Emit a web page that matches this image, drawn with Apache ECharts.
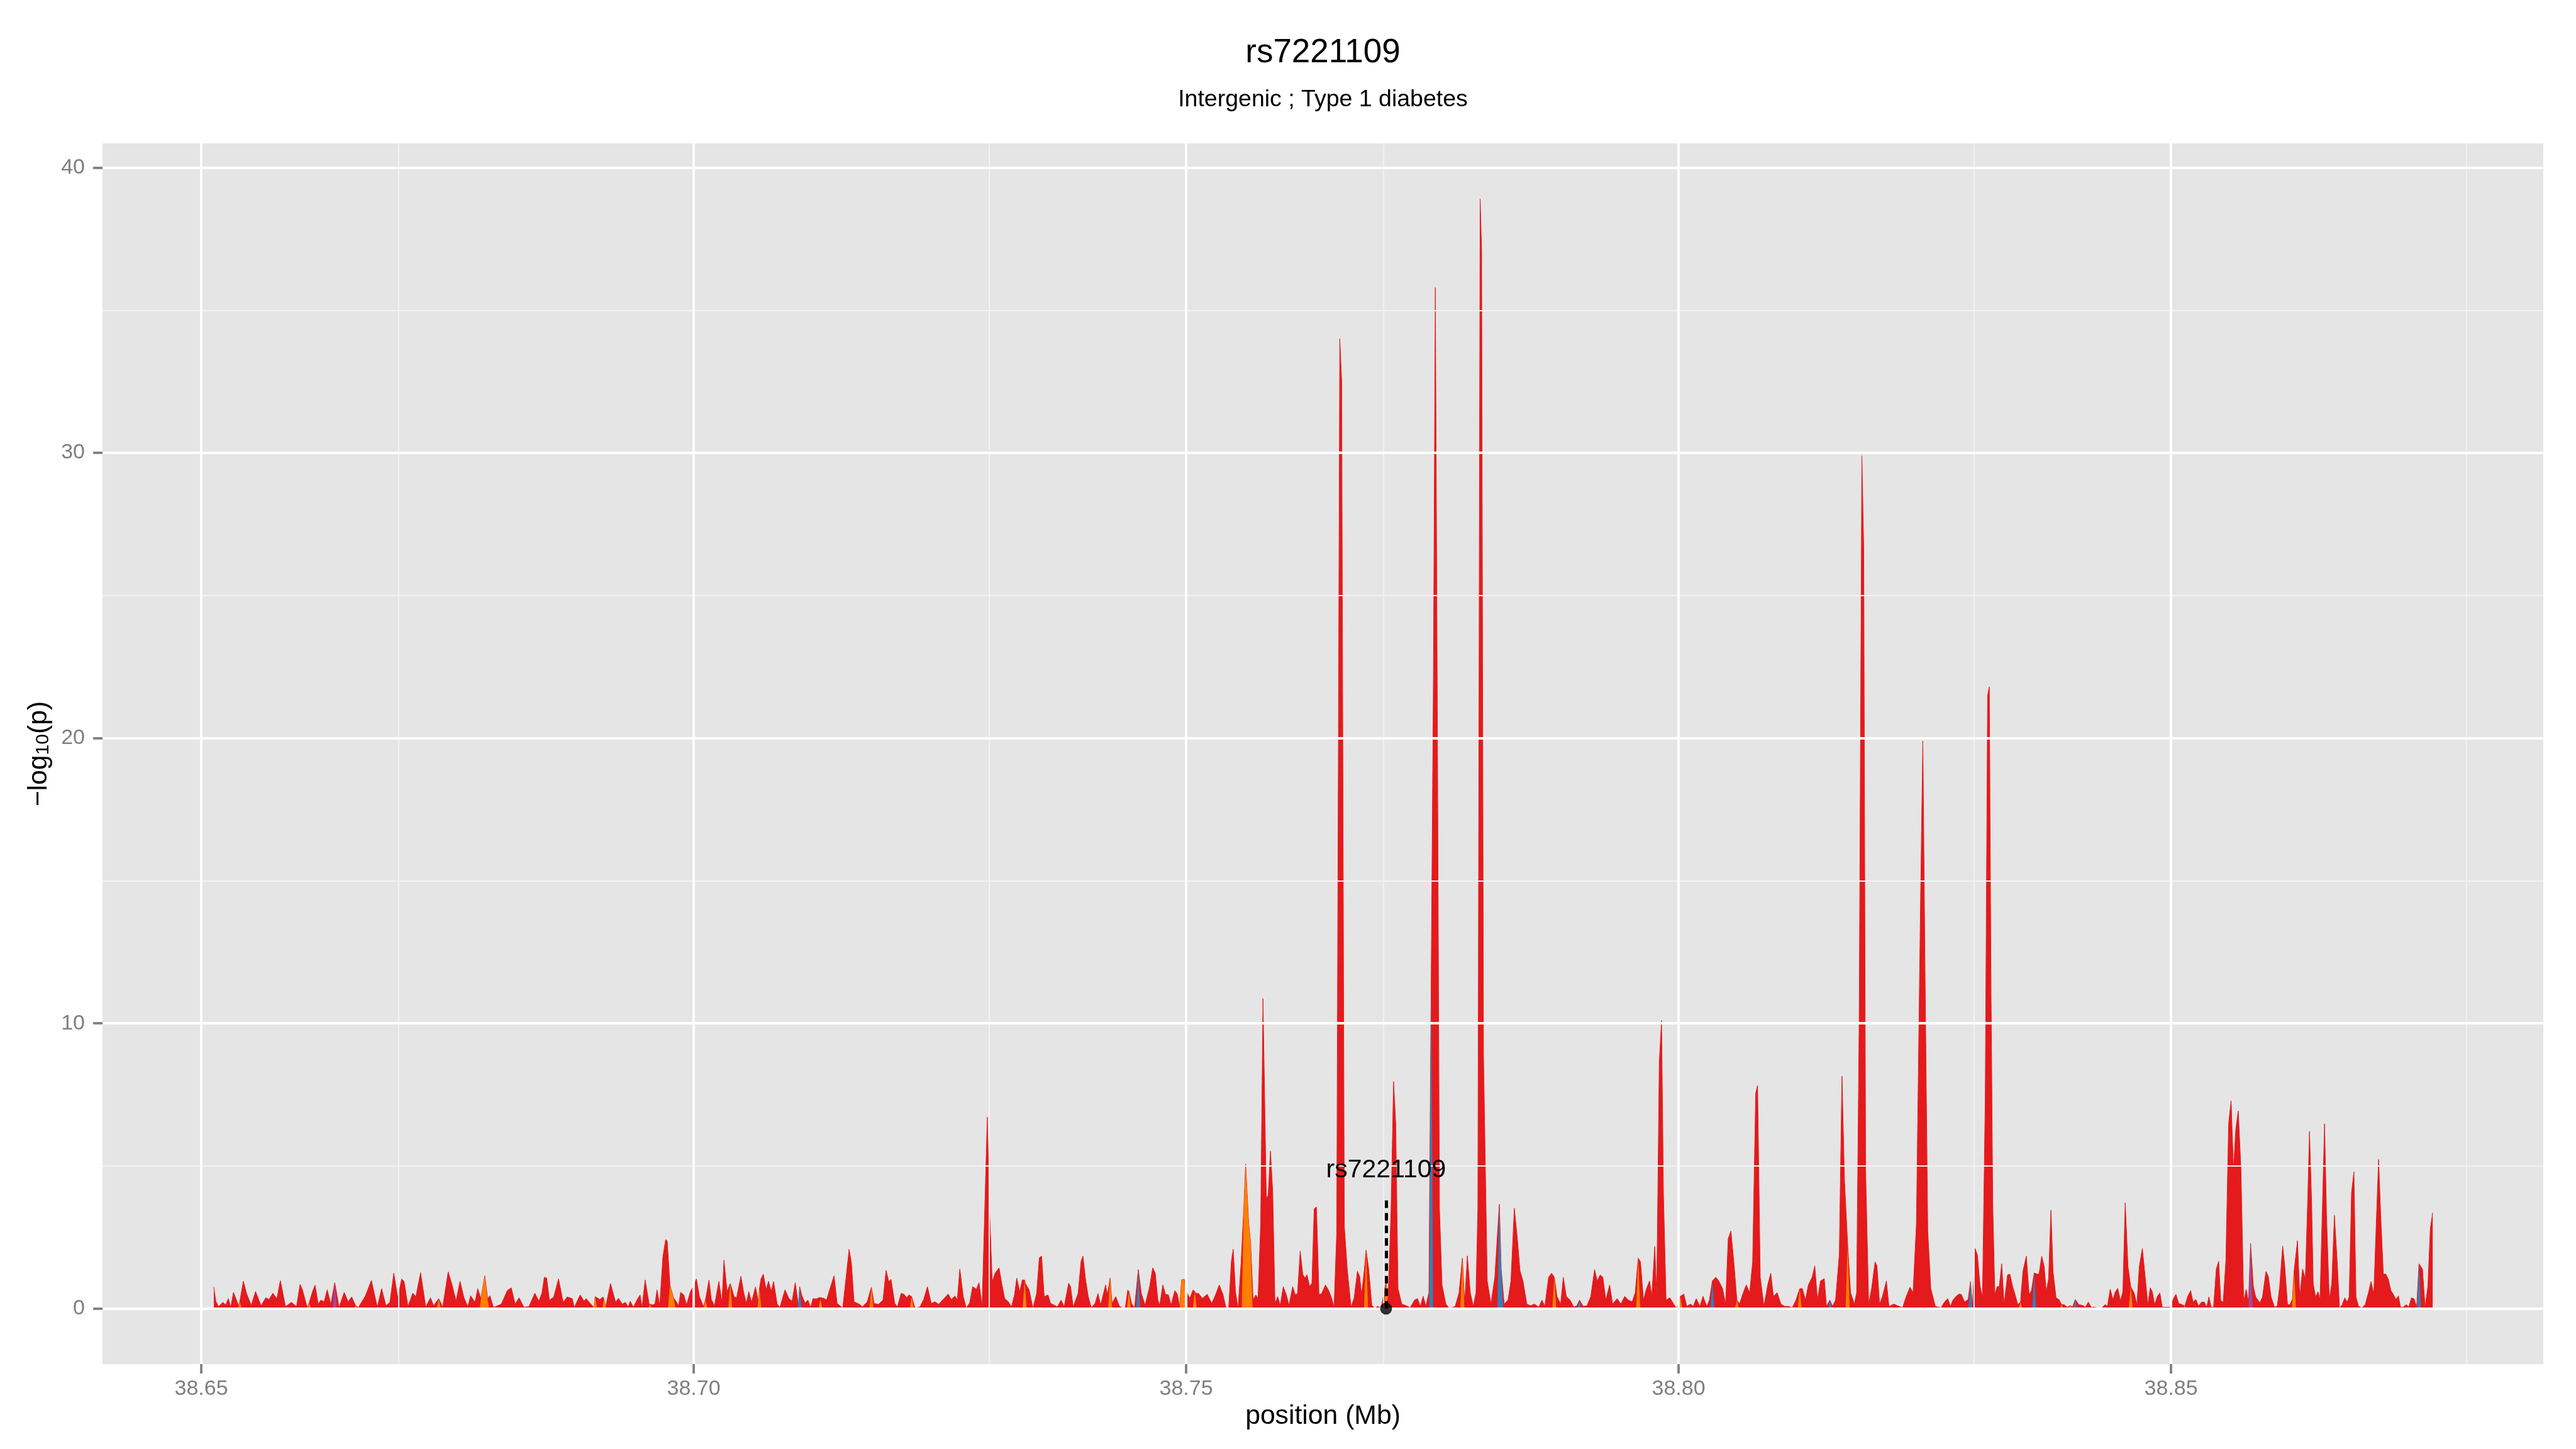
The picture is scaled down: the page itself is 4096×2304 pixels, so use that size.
<!DOCTYPE html>
<html>
<head>
<meta charset="utf-8">
<title>rs7221109</title>
<script src="https://cdn.jsdelivr.net/npm/echarts@6/dist/echarts.min.js"></script>
<style>
  html, body { margin: 0; padding: 0; background: #fff; }
  #chart { width: 4096px; height: 2304px; }
</style>
</head>
<body>
<div id="chart"></div>
<script>
const FONT = '"Liberation Sans", Arial, Helvetica, sans-serif'

const titleText = 'rs7221109'
const subtitleText = 'Intergenic ; Type 1 diabetes'
const xName = 'position (Mb)'

const xTicks = [38.65, 38.70, 38.75, 38.80, 38.85]
const xMinor = [38.675, 38.725, 38.775, 38.825, 38.875]
const yTicks = [0, 10, 20, 30, 40]
const yMinor = [5, 15, 25, 35]

// highlighted SNP
const snpName = 'rs7221109'
const snpPos = 38.7703
const snpVal = 0
const snpLineTop = 3.9

// overall profile, [position (Mb), -log10(p)]
const profile = [
  [38.65127,0.76],[38.65147,0.26],[38.65175,0.07],[38.65219,0.22],[38.65247,0.13],[38.65275,0.35],[38.65299,0.04],[38.65327,0.57],
  [38.65379,0.10],[38.65391,0.25],[38.65427,0.96],[38.65459,0.54],[38.65507,0.11],[38.65551,0.60],[38.65607,0.10],[38.65655,0.38],
  [38.65687,0.32],[38.65727,0.54],[38.65767,0.34],[38.65803,0.98],[38.65855,0.07],[38.65915,0.22],[38.65967,0.07],[38.66003,0.85],
  [38.66027,0.66],[38.66075,0.04],[38.66095,0.20],[38.66131,0.61],[38.66155,0.82],[38.66187,0.16],[38.66215,0.30],[38.66247,0.24],
  [38.66279,0.66],[38.66315,0.14],[38.66355,0.91],[38.66399,0.04],[38.66451,0.57],[38.66491,0.24],[38.66527,0.41],[38.66567,0.10],
  [38.66595,0.04],[38.66667,0.45],[38.66727,0.99],[38.66787,0.05],[38.66831,0.70],[38.66875,0.10],[38.66915,0.22],[38.66955,1.24],
  [38.66995,0.38],[38.67035,1.04],[38.67059,0.95],[38.67099,0.07],[38.67147,0.54],[38.67179,0.42],[38.67227,1.26],[38.67279,0.05],
  [38.67327,0.38],[38.67359,0.10],[38.67411,0.35],[38.67451,0.05],[38.67507,1.29],[38.67547,0.82],[38.67587,0.26],[38.67627,0.96],
  [38.67667,0.38],[38.67707,0.07],[38.67735,0.45],[38.67779,0.22],[38.67807,0.70],[38.67839,0.35],[38.67879,1.15],[38.67907,0.35],
  [38.67931,0.45],[38.67967,0.04],[38.68047,0.16],[38.68107,0.63],[38.68147,0.73],[38.68187,0.16],[38.68227,0.38],[38.68275,0.05],
  [38.68327,0.07],[38.68387,0.54],[38.68427,0.26],[38.68459,0.54],[38.68483,1.10],[38.68507,1.07],[38.68535,0.29],[38.68579,0.41],
  [38.68627,1.04],[38.68675,0.22],[38.68715,0.41],[38.68767,0.35],[38.68787,0.04],[38.68847,0.48],[38.68887,0.26],[38.68907,0.35],
  [38.68947,0.19],[38.68987,0.04],[38.68999,0.42],[38.69011,0.45],[38.69047,0.32],[38.69079,0.41],[38.69091,0.38],[38.69107,0.07],
  [38.69155,0.88],[38.69207,0.22],[38.69235,0.36],[38.69275,0.16],[38.69307,0.22],[38.69335,0.05],[38.69355,0.26],[38.69387,0.05],
  [38.69427,0.32],[38.69455,0.48],[38.69475,0.04],[38.69507,1.01],[38.69547,0.16],[38.69579,0.13],[38.69607,0.16],[38.69627,0.66],
  [38.69655,0.10],[38.69687,1.82],[38.69715,2.42],[38.69731,2.37],[38.69759,0.82],[38.69795,0.38],[38.69827,0.22],[38.69847,0.10],
  [38.69867,0.57],[38.69899,0.48],[38.69927,0.13],[38.69967,0.60],[38.69999,0.79],[38.70027,1.04],[38.70059,0.41],[38.70099,0.07],
  [38.70119,0.30],[38.70155,1.00],[38.70179,0.32],[38.70211,0.10],[38.70255,0.95],[38.70287,0.22],[38.70307,1.70],[38.70339,0.60],
  [38.70371,0.88],[38.70411,0.41],[38.70435,0.38],[38.70479,1.13],[38.70507,0.57],[38.70535,0.19],[38.70559,0.60],[38.70587,0.22],
  [38.70627,0.76],[38.70659,0.22],[38.70667,0.70],[38.70683,1.04],[38.70707,1.21],[38.70735,0.66],[38.70759,0.96],[38.70787,0.60],
  [38.70811,0.95],[38.70847,0.16],[38.70875,0.04],[38.70927,0.66],[38.70967,0.35],[38.70999,0.26],[38.71031,0.91],[38.71067,0.02],
  [38.71075,0.77],[38.71099,0.45],[38.71131,0.19],[38.71159,0.30],[38.71187,0.04],[38.71211,0.35],[38.71247,0.34],[38.71275,0.39],
  [38.71287,0.35],[38.71322,0.36],[38.71349,0.30],[38.71379,0.65],[38.71425,1.15],[38.71456,0.18],[38.71513,0.02],[38.71544,1.00],
  [38.71578,2.08],[38.71601,1.60],[38.71628,0.24],[38.71685,0.15],[38.71712,0.06],[38.71762,0.24],[38.71804,0.75],[38.71831,0.18],
  [38.71876,0.15],[38.71922,0.30],[38.71953,1.34],[38.71980,0.95],[38.72003,1.03],[38.72041,0.18],[38.72068,0.06],[38.72106,0.53],
  [38.72133,0.51],[38.72163,0.38],[38.72186,0.48],[38.72213,0.42],[38.72247,0.01],[38.72297,0.06],[38.72335,0.32],[38.72373,0.77],
  [38.72412,0.18],[38.72450,0.24],[38.72488,0.15],[38.72526,0.30],[38.72584,0.51],[38.72614,0.32],[38.72653,0.44],[38.72676,0.30],
  [38.72702,1.39],[38.72737,0.42],[38.72767,0.02],[38.72802,0.20],[38.72832,0.77],[38.72870,0.68],[38.72897,0.91],[38.72928,0.06],
  [38.72981,6.71],[38.73004,3.38],[38.73031,0.95],[38.73062,1.25],[38.73100,1.43],[38.73127,0.89],[38.73157,0.36],[38.73195,0.24],
  [38.73226,0.06],[38.73257,0.48],[38.73280,1.07],[38.73310,0.59],[38.73337,1.01],[38.73360,1.00],[38.73367,0.89],[38.73406,0.65],
  [38.73444,0.02],[38.73482,0.53],[38.73509,1.78],[38.73532,1.84],[38.73559,0.42],[38.73597,0.48],[38.73624,0.18],[38.73662,0.12],
  [38.73692,0.06],[38.73731,0.30],[38.73761,0.06],[38.73807,0.89],[38.73826,0.77],[38.73853,0.06],[38.73903,0.53],[38.73933,1.66],
  [38.73952,1.84],[38.73979,1.01],[38.74006,0.42],[38.74036,0.04],[38.74075,0.18],[38.74105,0.53],[38.74132,0.12],[38.74182,0.83],
  [38.74201,0.48],[38.74228,1.07],[38.74247,0.18],[38.74285,0.42],[38.74323,0.08],[38.74354,0.02],[38.74381,0.00],[38.74407,0.65],
  [38.74419,0.60],[38.74446,0.18],[38.74476,0.02],[38.74514,1.37],[38.74545,0.53],[38.74583,0.12],[38.74629,0.77],[38.74660,1.43],
  [38.74686,1.25],[38.74713,0.30],[38.74732,0.12],[38.74763,0.83],[38.74790,0.50],[38.74820,0.48],[38.74847,0.12],[38.74885,0.63],
  [38.74908,0.53],[38.74935,0.08],[38.74954,1.01],[38.74981,1.03],[38.75011,0.53],[38.75038,0.36],[38.75069,0.65],[38.75088,0.60],
  [38.75099,0.53],[38.75126,0.53],[38.75164,0.36],[38.75214,0.50],[38.75260,0.18],[38.75298,0.48],[38.75336,0.83],[38.75375,0.48],
  [38.75405,0.02],[38.75432,0.02],[38.75459,1.66],[38.75478,2.08],[38.75501,0.59],[38.75527,0.00],[38.75558,1.60],[38.75585,3.50],
  [38.75604,5.07],[38.75634,3.03],[38.75654,2.32],[38.75680,0.30],[38.75707,0.48],[38.75730,0.36],[38.75757,3.03],[38.75780,10.87],
  [38.75814,3.86],[38.75833,3.98],[38.75856,5.52],[38.75879,4.10],[38.75902,0.18],[38.75929,0.42],[38.75956,0.12],[38.75986,0.77],
  [38.76017,0.48],[38.76044,0.12],[38.76082,0.77],[38.76108,0.48],[38.76131,0.53],[38.76158,2.02],[38.76185,1.19],[38.76208,1.07],
  [38.76227,1.19],[38.76254,0.77],[38.76277,0.89],[38.76300,3.50],[38.76323,3.56],[38.76349,0.48],[38.76376,0.53],[38.76414,0.83],
  [38.76445,0.65],[38.76472,0.42],[38.76502,0.06],[38.76529,2.67],[38.76560,34.0],[38.76579,32.5],[38.76606,2.90],[38.76636,1.37],
  [38.76674,0.06],[38.76705,0.36],[38.76739,1.31],[38.76762,1.13],[38.76781,0.48],[38.76808,1.31],[38.76827,2.05],[38.76854,1.37],
  [38.76885,0.12],[38.76915,0.00],[38.76942,0.08],[38.76980,0.02],[38.77030,0.95],[38.77049,0.18],[38.77080,3.38],[38.77106,7.96],
  [38.77128,6.48],[38.77151,0.70],[38.77189,0.16],[38.77235,0.10],[38.77274,0.03],[38.77319,0.30],[38.77350,0.35],[38.77377,0.08],
  [38.77407,0.43],[38.77434,0.08],[38.77465,0.56],[38.77488,11.5],[38.77511,22.3],[38.77530,35.8],[38.77549,22.0],[38.77572,3.50],
  [38.77598,0.83],[38.77637,0.16],[38.77675,0.00],[38.77732,0.08],[38.77771,0.56],[38.77805,1.77],[38.77828,0.16],[38.77855,1.85],
  [38.77885,0.56],[38.77916,0.08],[38.77943,0.56],[38.77962,3.50],[38.77985,38.9],[38.78000,37.1],[38.78019,8.90],[38.78057,0.97],
  [38.78095,0.16],[38.78134,1.10],[38.78180,3.66],[38.78199,1.37],[38.78229,0.16],[38.78268,0.30],[38.78298,0.97],[38.78332,3.52],
  [38.78363,2.45],[38.78390,1.32],[38.78420,0.97],[38.78459,0.16],[38.78497,0.10],[38.78535,0.16],[38.78581,0.05],[38.78612,0.30],
  [38.78642,0.08],[38.78680,1.10],[38.78711,1.24],[38.78738,1.10],[38.78765,0.43],[38.78803,0.16],[38.78829,1.10],[38.78860,0.43],
  [38.78898,0.30],[38.78937,0.05],[38.78967,0.10],[38.78994,0.30],[38.79032,0.08],[38.79070,0.10],[38.79109,0.43],[38.79147,1.37],
  [38.79174,0.97],[38.79204,1.18],[38.79231,1.10],[38.79261,0.30],[38.79300,0.83],[38.79330,0.16],[38.79376,0.35],[38.79414,0.16],
  [38.79453,0.43],[38.79491,0.30],[38.79529,0.24],[38.79560,0.56],[38.79590,1.77],[38.79613,1.64],[38.79644,0.30],[38.79674,0.70],
  [38.79705,0.97],[38.79728,0.43],[38.79758,2.18],[38.79778,0.43],[38.79804,8.63],[38.79827,10.1],[38.79846,4.06],[38.79873,0.30],
  [38.79911,0.38],[38.79950,0.16],[38.79980,0.00],[38.80018,0.43],[38.80053,0.51],[38.80083,0.08],[38.80122,0.16],[38.80148,0.08],
  [38.80179,0.35],[38.80217,0.08],[38.80248,0.43],[38.80286,0.08],[38.80313,0.30],[38.80343,0.97],[38.80378,1.10],[38.80408,0.97],
  [38.80447,0.70],[38.80477,0.16],[38.80504,2.45],[38.80531,2.72],[38.80561,1.64],[38.80592,0.30],[38.80619,0.16],[38.80657,0.56],
  [38.80687,0.83],[38.80722,0.56],[38.80752,1.64],[38.80783,7.55],[38.80802,7.82],[38.80829,1.10],[38.80867,0.08],[38.80905,0.83],
  [38.80936,1.24],[38.80963,0.43],[38.81001,0.56],[38.81039,0.16],[38.81077,0.08],[38.81116,0.08],[38.81154,0.03],[38.81192,0.30],
  [38.81230,0.70],[38.81257,0.70],[38.81288,0.30],[38.81318,0.83],[38.81356,1.10],[38.81383,1.50],[38.81410,0.30],[38.81441,0.97],
  [38.81479,1.05],[38.81502,0.08],[38.81536,0.30],[38.81563,0.08],[38.81594,0.30],[38.81632,1.91],[38.81659,8.15],[38.81685,4.46],
  [38.81716,2.30],[38.81746,0.56],[38.81785,0.16],[38.81808,0.56],[38.81834,10.2],[38.81861,29.9],[38.81880,26.6],[38.81899,4.87],
  [38.81930,0.16],[38.81960,0.70],[38.81995,1.64],[38.82014,1.50],[38.82041,0.16],[38.82071,0.43],[38.82110,0.97],[38.82136,0.08],
  [38.82186,0.16],[38.82224,0.10],[38.82274,0.03],[38.82312,0.43],[38.82350,0.75],[38.82381,0.56],[38.82415,2.98],[38.82457,14.3],
  [38.82480,19.9],[38.82503,11.6],[38.82530,2.72],[38.82561,0.70],[38.82607,0.08],[38.82664,0.03],[38.82702,0.24],[38.82733,0.35],
  [38.82760,0.08],[38.82786,0.30],[38.82817,0.43],[38.82848,0.51],[38.82870,0.50],[38.82905,0.23],[38.82940,0.32],[38.82964,0.95],
  [38.82985,0.05],[38.83010,2.11],[38.83034,1.88],[38.83062,0.77],[38.83086,0.41],[38.83114,7.38],[38.83138,21.5],[38.83155,21.8],
  [38.83173,10.9],[38.83190,3.63],[38.83211,0.50],[38.83235,0.77],[38.83256,0.77],[38.83281,1.57],[38.83305,0.14],[38.83340,1.18],
  [38.83364,1.21],[38.83392,0.77],[38.83416,0.50],[38.83444,0.14],[38.83472,0.23],[38.83496,1.30],[38.83531,1.84],[38.83559,0.50],
  [38.83583,0.63],[38.83611,1.25],[38.83639,1.21],[38.83660,1.21],[38.83687,1.84],[38.83712,1.48],[38.83733,0.59],[38.83757,1.04],
  [38.83781,3.45],[38.83802,1.30],[38.83833,0.38],[38.83861,0.32],[38.83889,0.14],[38.83913,0.14],[38.83948,0.05],[38.83976,0.11],
  [38.84000,0.05],[38.84028,0.32],[38.84063,0.14],[38.84104,0.11],[38.84132,0.05],[38.84160,0.23],[38.84191,0.04],[38.84216,0.05],
  [38.84261,0.02],[38.84296,0.02],[38.84330,0.14],[38.84355,0.09],[38.84383,0.68],[38.84410,0.32],[38.84435,0.59],[38.84459,0.71],
  [38.84487,0.27],[38.84511,0.59],[38.84535,3.71],[38.84563,1.48],[38.84591,0.77],[38.84626,0.54],[38.84654,0.14],[38.84678,1.48],
  [38.84709,2.11],[38.84737,1.13],[38.84765,0.14],[38.84789,0.73],[38.84810,0.59],[38.84834,0.14],[38.84859,0.41],[38.84887,0.55],
  [38.84911,0.05],[38.84956,0.05],[38.84991,0.05],[38.85026,0.36],[38.85050,0.50],[38.85078,0.18],[38.85112,0.14],[38.85140,0.09],
  [38.85168,0.41],[38.85199,0.63],[38.85224,0.23],[38.85252,0.32],[38.85279,0.09],[38.85311,0.23],[38.85338,0.23],[38.85363,0.05],
  [38.85384,0.41],[38.85408,0.05],[38.85432,0.05],[38.85460,1.39],[38.85484,1.66],[38.85505,0.27],[38.85530,0.23],[38.85557,1.66],
  [38.85585,6.48],[38.85610,7.29],[38.85634,4.88],[38.85658,6.30],[38.85683,6.93],[38.85710,4.88],[38.85738,0.23],[38.85763,0.68],
  [38.85787,0.23],[38.85808,2.29],[38.85836,0.77],[38.85860,0.41],[38.85902,0.20],[38.85929,0.41],[38.85964,1.30],[38.85988,1.13],
  [38.86016,0.41],[38.86051,0.05],[38.86079,0.09],[38.86103,0.77],[38.86134,2.20],[38.86155,1.48],[38.86183,0.14],[38.86207,0.14],
  [38.86232,0.32],[38.86249,1.30],[38.86260,1.30],[38.86284,2.38],[38.86308,0.41],[38.86336,1.39],[38.86364,1.04],[38.86388,3.80],
  [38.86406,6.21],[38.86427,3.80],[38.86444,0.86],[38.86468,0.41],[38.86493,0.59],[38.86513,0.32],[38.86538,3.63],[38.86559,6.48],
  [38.86579,3.27],[38.86607,0.32],[38.86632,0.86],[38.86659,3.27],[38.86687,1.66],[38.86711,0.02],[38.86739,0.14],[38.86764,0.38],
  [38.86788,0.23],[38.86809,0.41],[38.86833,4.07],[38.86857,4.79],[38.86878,0.41],[38.86903,0.09],[38.86937,0.02],[38.86972,0.14],
  [38.87007,0.59],[38.87031,0.95],[38.87059,0.50],[38.87087,3.27],[38.87108,5.23],[38.87129,3.27],[38.87156,1.21],[38.87181,1.21],
  [38.87205,1.04],[38.87233,0.63],[38.87257,0.50],[38.87285,0.32],[38.87309,0.45],[38.87330,0.05],[38.87358,0.05],[38.87389,0.14],
  [38.87414,0.05],[38.87441,0.38],[38.87469,0.34],[38.87494,0.05],[38.87518,1.57],[38.87553,1.39],[38.87580,0.05],[38.87608,0.77],
  [38.87633,2.82],[38.87657,3.36]
]

// points that belong to the other colour groups (runs of neighbouring points)
const orangeRuns = [
  [[38.65391,0.25]], [[38.66095,0.20]], [[38.66567,0.10]], [[38.67411,0.35]],
  [[38.67845,0.45],[38.67879,1.15],[38.67903,0.40]],
  [[38.68999,0.42]], [[38.69091,0.38]], [[38.69555,0.15]],
  [[38.69759,0.82],[38.69795,0.38]],
  [[38.70119,0.30]], [[38.70371,0.88]], [[38.70667,0.70]], [[38.71287,0.35]],
  [[38.71804,0.75]], [[38.72213,0.42]], [[38.73360,1.00]], [[38.74228,1.07]], [[38.74419,0.60]],
  [[38.74954,1.01],[38.74981,1.03]],
  [[38.75088,0.60]],
  [[38.75585,3.50],[38.75604,5.07],[38.75634,3.03],[38.75654,2.32]],
  [[38.76827,2.05]], [[38.77030,0.95]], [[38.77805,1.77]], [[38.78738,1.10]], [[38.79590,1.77]],
  [[38.80018,0.43]], [[38.80592,0.30]], [[38.81230,0.70]], [[38.81716,2.30]], [[38.83472,0.23]],
  [[38.83889,0.14]], [[38.83976,0.11]], [[38.84591,0.77]], [[38.85140,0.09]], [[38.86249,1.30]]
]
const blueRuns = [
  [[38.71075,0.77]], [[38.74514,1.37]], [[38.77488,11.5]],
  [[38.78180,3.66],[38.78199,1.37]],
  [[38.78994,0.30]], [[38.80343,0.97]], [[38.81536,0.30]], [[38.82964,0.95]],
  [[38.83611,1.25]], [[38.84028,0.32]], [[38.87518,1.57]]
]
const purpleRuns = [
  [[38.66355,0.91]], [[38.85808,2.29]]
]

const RED = '#E41A1C'
const ORANGE = '#FF7F00'
const BLUE = '#377EB8'
const PURPLE = '#984EA3'

// each run drops to zero just beside its first and last point
const HALF = 0.0002
function runsToArea(runs) {
  const out = []
  runs.forEach(run => {
    out.push([run[0][0] - HALF, 0])
    run.forEach(p => out.push(p))
    out.push([run[run.length - 1][0] + HALF, 0])
  })
  return out
}

function areaSeries(name, data, color, z, lineWidth) {
  return {
    name: name,
    type: 'line',
    data: data,
    symbol: 'none',
    silent: true,
    z: z,
    lineStyle: { color: color, width: lineWidth, opacity: lineWidth ? 1 : 0 },
    areaStyle: { color: color, opacity: 1 },
    animation: false
  }
}

// ggplot style grid: minor lines first, major on top
const majorLine = { color: '#FFFFFF', width: 3.8, type: 'solid' }
const minorLine = { color: '#F2F2F2', width: 1.9, type: 'solid' }
const gridLines = []
xMinor.forEach(v => gridLines.push({ xAxis: v, lineStyle: minorLine }))
yMinor.forEach(v => gridLines.push({ yAxis: v, lineStyle: minorLine }))
xTicks.forEach(v => gridLines.push({ xAxis: v, lineStyle: majorLine }))
yTicks.forEach(v => gridLines.push({ yAxis: v, lineStyle: majorLine }))

const tickStyle = { color: '#7F7F7F', width: 3.8 }
const tickLabel = { fontFamily: FONT, fontSize: 34, color: '#7F7F7F' }

const chart = echarts.init(document.getElementById('chart'), null, { renderer: 'canvas' })

const option = {
  animation: false,
  backgroundColor: '#FFFFFF',
  grid: {
    left: 163,
    right: 52,
    top: 228,
    bottom: 135,
    show: true,
    backgroundColor: '#E5E5E5',
    borderWidth: 0,
    containLabel: false,
    outerBoundsMode: 'none'
  },
  xAxis: {
    type: 'value',
    min: 38.63997,
    max: 38.8878,
    axisLine: { show: false, onZero: false },
    splitLine: { show: false },
    axisTick: { show: true, length: 15, lineStyle: tickStyle, customValues: xTicks },
    axisLabel: Object.assign({ margin: 23, customValues: xTicks, formatter: v => v.toFixed(2) }, tickLabel)
  },
  yAxis: {
    type: 'value',
    min: -1.945,
    max: 40.85,
    axisLine: { show: false, onZero: false },
    splitLine: { show: false },
    axisTick: { show: true, length: 15, lineStyle: tickStyle, customValues: yTicks },
    axisLabel: Object.assign({ margin: 28, customValues: yTicks }, tickLabel)
  },
  graphic: [
    {
      type: 'text', x: 2103.5, y: 84.5, silent: true,
      style: { text: titleText, fontFamily: FONT, fontSize: 53, fill: '#000', align: 'center', verticalAlign: 'middle' }
    },
    {
      type: 'text', x: 2103.5, y: 159, silent: true,
      style: { text: subtitleText, fontFamily: FONT, fontSize: 37.5, fill: '#000', align: 'center', verticalAlign: 'middle' }
    },
    {
      type: 'text', x: 2103.5, y: 2252, silent: true,
      style: { text: xName, fontFamily: FONT, fontSize: 42.7, fill: '#000', align: 'center', verticalAlign: 'middle' }
    },
    {
      type: 'text', x: 62, y: 1198.6, rotation: Math.PI / 2, silent: true,
      style: {
        text: '{m|\u2212log}{s|10}{m|(p)}',
        align: 'center',
        verticalAlign: 'middle',
        rich: {
          m: { fontFamily: FONT, fontSize: 42.7, lineHeight: 43, fill: '#000' },
          s: { fontFamily: FONT, fontSize: 30, lineHeight: 22, verticalAlign: 'bottom', fill: '#000' }
        }
      }
    }
  ],
  series: [
    {
      name: 'grid',
      type: 'line',
      data: [profile[0]],
      symbol: 'none',
      lineStyle: { width: 0, opacity: 0 },
      silent: true,
      z: 1,
      markLine: {
        silent: true,
        symbol: ['none', 'none'],
        label: { show: false },
        animation: false,
        data: gridLines
      }
    },
    areaSeries('profile', profile, RED, 2, 1),
    areaSeries('orange', runsToArea(orangeRuns), ORANGE, 3, 0),
    areaSeries('blue', runsToArea(blueRuns), BLUE, 3, 0),
    areaSeries('purple', runsToArea(purpleRuns), PURPLE, 3, 0),
    {
      name: snpName,
      type: 'scatter',
      data: [[snpPos, snpVal]],
      symbol: 'circle',
      symbolSize: 19,
      itemStyle: { color: '#000' },
      silent: true,
      z: 5,
      markLine: {
        silent: true,
        symbol: ['none', 'none'],
        animation: false,
        lineStyle: { color: '#000', width: 5, type: [12, 8] },
        label: {
          show: true,
          position: 'end',
          distance: 23,
          formatter: snpName,
          fontFamily: FONT,
          fontSize: 41,
          color: '#000'
        },
        data: [[{ coord: [snpPos, snpVal] }, { coord: [snpPos, snpLineTop] }]]
      }
    }
  ]
}

chart.setOption(option)
</script>
</body>
</html>
